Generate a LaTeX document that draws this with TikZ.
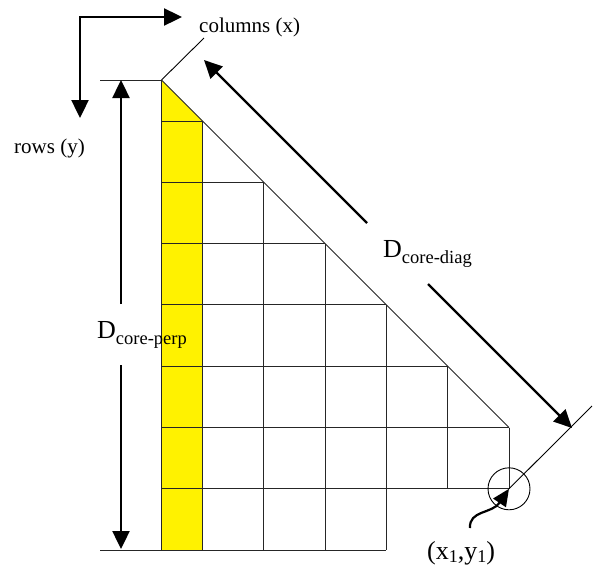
\documentclass[tikz,border=0pt]{standalone}
\usepackage{fontspec}
\setmainfont{Liberation Serif}
\usetikzlibrary{arrows.meta}
\begin{document}
\begin{tikzpicture}[x=1pt,y=-1pt,
  gridline/.style={line width=0.9pt, black!85},
  thinline/.style={line width=0.9pt, black},
  bigarrow/.style={line width=2.4pt, -{Triangle[length=18pt,width=17pt]}},
  lbl/.style={inner sep=0pt, font=\fontsize{21}{21}\selectfont}]
\useasboundingbox (0,0) rectangle (594,571);
% yellow column
\fill[yellow] (161.5,80) -- (202.5,121) -- (202.5,550.1) -- (161.5,550.1) -- cycle;
% horizontal grid lines
\draw[gridline] (100,80) -- (161.5,80);
\draw[gridline] (161.5,121) -- (202.5,121);
\draw[gridline] (161.5,182.3) -- (263.8,182.3);
\draw[gridline] (161.5,243.6) -- (325.1,243.6);
\draw[gridline] (161.5,304.9) -- (386.4,304.9);
\draw[gridline] (161.5,366.2) -- (447.7,366.2);
\draw[gridline] (161.5,427.5) -- (509,427.5);
\draw[gridline] (161.5,488.8) -- (509,488.8);
\draw[gridline] (100,550.1) -- (386.4,550.1);
% vertical grid lines
\draw[gridline] (161.5,80) -- (161.5,550.1);
\draw[gridline] (202.5,121) -- (202.5,550.1);
\draw[gridline] (263.8,182.3) -- (263.8,550.1);
\draw[gridline] (325.1,243.6) -- (325.1,550.1);
\draw[gridline] (386.4,304.9) -- (386.4,550.1);
\draw[gridline] (447.7,366.2) -- (447.7,488.8);
\draw[gridline] (509,427.5) -- (509,488.8);
% diagonal and perpendicular ticks
\draw[gridline] (161.5,80) -- (509,427.5);
\draw[thinline] (161.5,80) -- (204,38);
\coordinate (pt1) at (509,488.8);
\draw[thinline] (pt1) -- (592,406);
% axis arrows
\coordinate (corner) at (80,17);
\coordinate (xtip) at (182,17);
\coordinate (ytip) at (80,118);
\draw[line width=2.4pt, {Triangle[length=18pt,width=17pt]}-{Triangle[length=18pt,width=17pt]}] (ytip) -- (corner) -- (xtip);
\node[lbl, anchor=base west] (colslbl) at (199,32) {columns (x)};
\node[lbl, anchor=base west] (rowslbl) at (14,153) {rows (y)};
% perpendicular dimension
\coordinate (ptop) at (121,80);
\coordinate (pgap1) at (121,304);
\coordinate (pgap2) at (121,365);
\coordinate (pbot) at (121,549);
\draw[bigarrow] (pgap1) -- (ptop);
\draw[bigarrow] (pgap2) -- (pbot);
\node[inner sep=0pt, anchor=base west] (dperp) at (97,338)
  {\fontsize{26}{26}\selectfont D\raisebox{-6pt}{\fontsize{18.5}{18.5}\selectfont core-perp}};
% diagonal dimension
\coordinate (dtop) at (204,60);
\coordinate (dgap1) at (367,223);
\coordinate (dgap2) at (428,284);
\coordinate (dbot) at (572,428);
\draw[bigarrow] (dgap1) -- (dtop);
\draw[bigarrow] (dgap2) -- (dbot);
\node[inner sep=0pt, anchor=base west] (ddiag) at (383,257)
  {\fontsize{26}{26}\selectfont D\raisebox{-6pt}{\fontsize{18.5}{18.5}\selectfont core-diag}};
% point (x1,y1)
\draw[thinline] (pt1) circle[radius=21pt];
\coordinate (cstart) at (470,528);
\draw[line width=2.2pt, -{Triangle[length=17pt,width=15pt]}] (cstart) .. controls (469,510) and (492,514) .. (pt1);
\node[inner sep=0pt, anchor=base] (ptlbl) at (461,559)
  {\fontsize{26}{26}\selectfont (x\raisebox{-3pt}{\fontsize{18}{18}\selectfont 1},y\raisebox{-3pt}{\fontsize{18}{18}\selectfont 1})};
\end{tikzpicture}
\end{document}
